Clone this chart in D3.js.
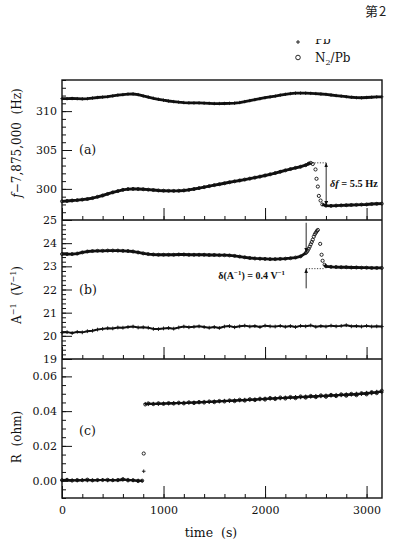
<!DOCTYPE html>
<html><head><meta charset="utf-8">
<script src="https://cdn.jsdelivr.net/npm/d3@7"></script>
<style>body{margin:0;background:#fff}svg{display:block}</style>
</head><body>
<svg id="c" width="395" height="545"></svg>
<script>
// ---------- DATA ----------
const time = [0,50,100,150,200,250,300,350,400,450,500,550,600,650,700,750,800,850,900,950,1000,1050,1100,1150,1200,1250,1300,1350,1400,1450,1500,1550,1600,1650,1700,1750,1800,1850,1900,1950,2000,2050,2100,2150,2200,2250,2300,2350,2400,2450,2500,2550,2600,2650,2700,2750,2800,2850,2900,2950,3000,3050,3100,3150];
const xTicks = [0,1000,2000,3000];

// (a) f - 7,875,000 (Hz)
const aPb = [311.6,311.6,311.62,311.6,311.58,311.6,311.68,311.75,311.8,311.85,311.95,312.05,312.12,312.18,312.2,312.12,311.95,311.8,311.65,311.52,311.4,311.3,311.22,311.15,311.1,311.07,311.05,311.05,311.02,311.0,310.97,310.97,310.98,311.0,311.02,311.1,311.22,311.35,311.48,311.6,311.72,311.83,311.93,312.05,312.16,312.25,312.3,312.31,312.3,312.28,312.25,312.2,312.15,312.07,312.0,311.92,311.85,311.78,311.73,311.72,311.75,311.78,311.82,311.84];
const aN2Time = [0,50,100,150,200,250,300,350,400,450,500,550,600,650,700,750,800,850,900,950,1000,1050,1100,1150,1200,1250,1300,1350,1400,1450,1500,1550,1600,1650,1700,1750,1800,1850,1900,1950,2000,2050,2100,2150,2200,2250,2300,2350,2400,2430,2450,2563,2600,2650,2700,2750,2800,2850,2900,2950,3000,3050,3100,3150];
const aN2 = [298.4,298.45,298.5,298.55,298.62,298.7,298.82,298.98,299.15,299.35,299.55,299.72,299.88,299.97,300.0,299.98,299.95,299.9,299.85,299.8,299.77,299.75,299.74,299.76,299.8,299.88,299.98,300.1,300.22,300.35,300.48,300.6,300.72,300.85,300.97,301.08,301.2,301.32,301.45,301.58,301.72,301.87,302.03,302.2,302.38,302.55,302.7,302.85,303.05,303.25,303.35,298.0,297.85,297.82,297.85,297.88,297.9,297.93,297.95,297.98,298.0,298.05,298.08,298.1];
const aN2JumpTime = [2470,2497,2507,2520,2530,2547];
const aN2Jump = [303.2,302.5,301.3,300.3,299.1,298.5];

// (b) A^-1 (V^-1)
const bN2Time = [0,50,100,150,200,250,300,350,400,450,500,550,600,650,700,750,800,850,900,950,1000,1050,1100,1150,1200,1250,1300,1350,1400,1450,1500,1550,1600,1650,1700,1750,1800,1850,1900,1950,2000,2050,2100,2150,2200,2250,2300,2350,2400,2586,2600,2650,2700,2750,2800,2850,2900,2950,3000,3050,3100,3150];
const bN2 = [23.53,23.53,23.53,23.55,23.6,23.64,23.66,23.67,23.67,23.68,23.68,23.68,23.67,23.66,23.64,23.6,23.56,23.53,23.51,23.5,23.5,23.5,23.5,23.51,23.51,23.5,23.5,23.5,23.5,23.49,23.49,23.48,23.48,23.47,23.45,23.42,23.39,23.36,23.34,23.33,23.32,23.31,23.31,23.32,23.33,23.35,23.38,23.43,23.57,23.07,23.0,22.98,22.97,22.96,22.96,22.95,22.95,22.94,22.94,22.93,22.93,22.93];
const bN2JumpTime = [2410,2420,2430,2440,2450,2460,2470,2480,2490,2500,2510,2520,2543,2557,2567];
const bN2Jump = [23.62,23.68,23.76,23.85,23.95,24.05,24.15,24.28,24.38,24.45,24.52,24.57,23.97,23.5,23.24];
const bPb = [20.14,20.16,20.12,20.17,20.15,20.2,20.22,20.27,20.3,20.33,20.32,20.36,20.35,20.38,20.4,20.36,20.37,20.35,20.3,20.29,20.32,20.34,20.31,20.36,20.4,20.37,20.39,20.41,20.38,20.35,20.38,20.34,20.4,20.42,20.37,20.41,20.44,20.4,20.42,20.38,20.44,20.41,20.4,20.43,20.39,20.42,20.38,20.43,20.41,20.45,20.39,20.42,20.4,20.44,20.41,20.43,20.46,20.41,20.42,20.4,20.43,20.4,20.41,20.4];

// (c) R (ohm)
const cLowTime = [0,50,100,150,200,250,300,350,400,450,500,550,600,650,700,750,790];
const cLowN2 = [0.0003,0.0005,0.0,0.0004,0.0002,0.0006,0.0001,0.0004,0.0003,0.0005,0.0002,0.0004,0.0009,0.0001,0.0003,-0.0003,0.0];
const cLowPb = [0.0,0.0002,0.0003,-0.0001,0.0004,0.0,0.0003,0.0001,0.0005,0.0,0.0003,0.0001,0.0003,0.0006,0.0,0.0002,-0.0002];
const cJumpTime = [805];
const cJumpN2 = [0.0156];
const cJumpPb = [0.0054];
const cHighTime = [820,850,900,950,1000,1050,1100,1150,1200,1250,1300,1350,1400,1450,1500,1550,1600,1650,1700,1750,1800,1850,1900,1950,2000,2050,2100,2150,2200,2250,2300,2350,2400,2450,2500,2550,2600,2650,2700,2750,2800,2850,2900,2950,3000,3050,3100,3150];
const cHighN2 = [0.0438,0.0445,0.0440,0.0446,0.0441,0.0447,0.0443,0.0449,0.0444,0.0451,0.0446,0.0453,0.0449,0.0456,0.0451,0.0459,0.0455,0.0462,0.0457,0.0466,0.0460,0.0469,0.0463,0.0472,0.0466,0.0476,0.0469,0.0479,0.0472,0.0482,0.0474,0.0485,0.0477,0.0488,0.0480,0.0491,0.0482,0.0494,0.0486,0.0497,0.0488,0.0500,0.0491,0.0504,0.0496,0.0510,0.0503,0.0518];
const cHighPb = [0.0443,0.0439,0.0444,0.0440,0.0446,0.0442,0.0448,0.0444,0.0450,0.0446,0.0452,0.0448,0.0455,0.0451,0.0458,0.0454,0.0461,0.0457,0.0464,0.0460,0.0467,0.0463,0.0470,0.0466,0.0474,0.0469,0.0477,0.0472,0.0480,0.0475,0.0483,0.0478,0.0486,0.0481,0.0489,0.0484,0.0492,0.0487,0.0495,0.0490,0.0499,0.0493,0.0502,0.0497,0.0507,0.0501,0.0513,0.0508];

// ---------- DRAW ----------
const svg = d3.select('#c');
const SERIF = "'DejaVu Serif', serif";
const INK = '#111';
const x = d3.scaleLinear().domain([0,3150]).range([62,381.8]);
const yA = d3.scaleLinear().domain([296,314]).range([220,80]);
const yB = d3.scaleLinear().domain([19,25]).range([359,220]);
const yC = d3.scaleLinear().domain([-0.01,0.07]).range([498,359]);

function pts(ts, vs){ return ts.map((t,i)=>[t,vs[i]]); }
function line(y, data, lw){
  svg.append('path').attr('d', d3.line().x(d=>x(d[0])).y(d=>y(d[1]))(data))
    .attr('fill','none').attr('stroke',INK).attr('stroke-width',lw).attr('stroke-linejoin','round');
}
function circles(y, data, r){
  svg.append('g').selectAll('circle').data(data).join('circle')
    .attr('cx',d=>x(d[0])).attr('cy',d=>y(d[1])).attr('r',r||1.5)
    .attr('fill','none').attr('stroke',INK).attr('stroke-width',0.9);
}
function crosses(y, data, s){
  s = s||1.7;
  svg.append('g').selectAll('path').data(data).join('path')
    .attr('d',d=>`M${x(d[0])-s},${y(d[1])}H${x(d[0])+s}M${x(d[0])},${y(d[1])-s}V${y(d[1])+s}`)
    .attr('stroke',INK).attr('stroke-width',0.9);
}

function yAxis(y, major, minor, fmt){
  const g1 = svg.append('g').attr('transform','translate(62,0)')
    .call(d3.axisLeft(y).tickValues(minor).tickSize(-4).tickFormat(''));
  const g2 = svg.append('g').attr('transform','translate(62,0)')
    .call(d3.axisLeft(y).tickValues(major).tickSize(-10).tickPadding(5).tickFormat(fmt));
  [g1,g2].forEach(g=>{g.select('.domain').remove(); g.selectAll('line').attr('stroke',INK).attr('stroke-width',1);
    g.selectAll('text').attr('font-family',SERIF).attr('font-size',11).attr('fill',INK);});
}
function xAxis(yPos, labels){
  const minor = d3.range(0,3151,200);
  const g1 = svg.append('g').attr('transform',`translate(0,${yPos})`)
    .call(d3.axisBottom(x).tickValues(minor).tickSize(-4).tickFormat(''));
  const g2 = svg.append('g').attr('transform',`translate(0,${yPos})`)
    .call(d3.axisBottom(x).tickValues(xTicks).tickSize(-12).tickPadding(8).tickFormat(labels?d3.format('d'):''));
  [g1,g2].forEach(g=>{g.select('.domain').remove(); g.selectAll('line').attr('stroke',INK).attr('stroke-width',1);
    g.selectAll('text').attr('font-family',SERIF).attr('font-size',11).attr('fill',INK);});
}

yAxis(yA, [300,305,310], d3.range(296,314.01,1), d3.format('d'));
yAxis(yB, [19,20,21,22,23,24,25], d3.range(19,25.01,0.2), d3.format('d'));
yAxis(yC, [0,0.02,0.04,0.06], d3.range(-0.01,0.0701,0.005), d3.format('.2f'));
xAxis(220,false); xAxis(359,false); xAxis(498,true);

svg.append('rect').attr('x',62).attr('y',80).attr('width',320).attr('height',418)
  .attr('fill','none').attr('stroke',INK).attr('stroke-width',1.4);
[220,359].forEach(v=>svg.append('line').attr('x1',62).attr('x2',382).attr('y1',v).attr('y2',v).attr('stroke',INK).attr('stroke-width',1.4));

// ---- panel a data ----
const aPbPts = pts(time,aPb);
line(yA, aPbPts, 2.8); crosses(yA, aPbPts);
const aN2Pts = pts(aN2Time,aN2);
line(yA, aN2Pts.filter(d=>d[0]<=2450), 2.9);
line(yA, aN2Pts.filter(d=>d[0]>=2563), 2.9);
circles(yA, aN2Pts); circles(yA, pts(aN2JumpTime,aN2Jump), 1.6);

// ---- panel b data ----
const bN2Pts = pts(bN2Time,bN2);
line(yB, bN2Pts.filter(d=>d[0]<=2400), 2.8);
line(yB, bN2Pts.filter(d=>d[0]>=2586), 2.8);
circles(yB, bN2Pts); circles(yB, pts(bN2JumpTime,bN2Jump), 1.6);
const bPbPts = pts(time,bPb);
line(yB, bPbPts, 2); crosses(yB, bPbPts, 1.9);

// ---- panel c data ----
const cLN = pts(cLowTime,cLowN2), cLP = pts(cLowTime,cLowPb);
const cHN = pts(cHighTime,cHighN2), cHP = pts(cHighTime,cHighPb);
line(yC, cLN, 2); line(yC, cLP, 2); line(yC, cHN, 2); line(yC, cHP, 2);
circles(yC, cLN); circles(yC, cHN); crosses(yC, cLP); crosses(yC, cHP);
circles(yC, pts(cJumpTime,cJumpN2), 1.6); crosses(yC, pts(cJumpTime,cJumpPb), 1.8);

// ---- annotations ----
const defs = svg.append('defs');
defs.append('marker').attr('id','ah').attr('viewBox','0 0 6 6').attr('refX',6).attr('refY',3)
  .attr('markerWidth',5).attr('markerHeight',5).attr('orient','auto-start-reverse')
  .append('path').attr('d','M0,0.5L6,3L0,5.5Z').attr('fill',INK);
svg.append('line').attr('x1',x(2460)).attr('x2',x(2602)).attr('y1',yA(303.35)).attr('y2',yA(303.35))
  .attr('stroke',INK).attr('stroke-width',0.8).attr('stroke-dasharray','1.2,1.5');
svg.append('line').attr('x1',x(2602)).attr('x2',x(2602)).attr('y1',yA(303.35)).attr('y2',yA(297.85))
  .attr('stroke',INK).attr('stroke-width',0.9).attr('marker-start','url(#ah)').attr('marker-end','url(#ah)');
svg.append('text').attr('x',x(2640)).attr('y',yA(300.2)).attr('font-family',"'Liberation Serif', serif")
  .attr('font-size',10.3).attr('font-weight','bold').attr('fill',INK)
  .html('<tspan font-style="italic">δf</tspan> = 5.5 Hz');
svg.append('line').attr('x1',x(2405)).attr('x2',x(2405)).attr('y1',yB(24.88)).attr('y2',yB(23.6))
  .attr('stroke',INK).attr('stroke-width',0.9).attr('marker-end','url(#ah)');
svg.append('line').attr('x1',x(2405)).attr('x2',x(2405)).attr('y1',yB(22.05)).attr('y2',yB(22.9))
  .attr('stroke',INK).attr('stroke-width',0.9).attr('marker-end','url(#ah)');
svg.append('line').attr('x1',x(2405)).attr('x2',x(2590)).attr('y1',yB(22.9)).attr('y2',yB(22.9))
  .attr('stroke',INK).attr('stroke-width',0.8).attr('stroke-dasharray','1.2,1.5');
svg.append('text').attr('x',x(1540)).attr('y',yB(22.45)).attr('font-family',"'Liberation Serif', serif")
  .attr('font-size',10).attr('font-weight','bold').attr('fill',INK)
  .html('δ(A<tspan font-size="6.8" dy="-4">−1</tspan><tspan dy="4">) = 0.4 V</tspan><tspan font-size="6.8" dy="-4">−1</tspan>');

[['(a)',yA(305)],['(b)',yB(22)],['(c)',yC(0.029)]].forEach(([t,yy])=>{
  svg.append('text').attr('x',79).attr('y',yy).attr('dy','0.35em').attr('font-family',SERIF)
    .attr('font-size',12.5).attr('fill',INK).text(t);
});

function ytitle(cx, cy, html){
  svg.append('text').attr('transform',`translate(${cx},${cy}) rotate(-90)`).attr('text-anchor','middle')
    .attr('font-family',SERIF).attr('font-size',12).attr('fill',INK).html(html);
}
ytitle(21, 143, '<tspan font-style="italic">f</tspan>−7,875,000\u00a0\u00a0(Hz)');
ytitle(21, 295, 'A<tspan font-size="8" dy="-5">−1</tspan><tspan dy="5">\u00a0\u00a0(V</tspan><tspan font-size="8" dy="-5">−1</tspan><tspan dy="5">)</tspan>');
ytitle(21, 437, 'R\u00a0\u00a0(ohm)');

svg.append('text').attr('x',211).attr('y',537).attr('text-anchor','middle').attr('font-family',SERIF)
  .attr('font-size',12.5).attr('fill',INK).text('time\u00a0\u00a0(s)');

defs.append('clipPath').attr('id','lc').append('rect').attr('x',0).attr('y',39).attr('width',395).attr('height',60);
const lg = svg.append('g');
const l1 = lg.append('g').attr('clip-path','url(#lc)');
l1.append('path').attr('d','M296,42H300M298,40V44').attr('stroke',INK).attr('stroke-width',0.9);
l1.append('text').attr('x',315).attr('y',44).attr('font-family',SERIF).attr('font-size',12).attr('fill',INK).text('Pb');
lg.append('circle').attr('cx',298).attr('cy',57.5).attr('r',2.3).attr('fill','none').attr('stroke',INK).attr('stroke-width',0.9);
lg.append('text').attr('x',315).attr('y',62).attr('font-family',SERIF).attr('font-size',12).attr('fill',INK)
  .html('N<tspan font-size="8" dy="3">2</tspan><tspan dy="-3">/Pb</tspan>');

svg.append('text').attr('x',365).attr('y',16).attr('font-family',"'Noto Sans CJK SC', sans-serif")
  .attr('font-size',13).attr('letter-spacing',1).attr('fill','#222').text('第2');
</script>
</body></html>
